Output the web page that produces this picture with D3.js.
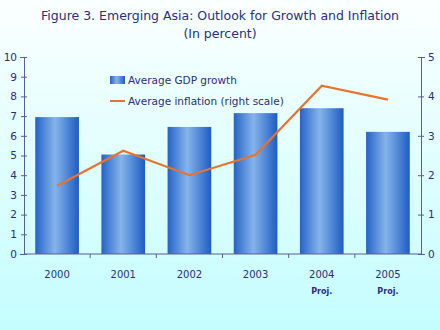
<!DOCTYPE html>
<html>
<head>
  <style>
    body { margin: 0; }
    svg { display: block; font-family: "DejaVu Sans", Verdana, sans-serif; }
  </style>
</head>
<body>
  <script src="https://d3js.org/d3.v7.min.js"></script>
  <svg id="chart" width="440" height="330"></svg>
  <script>
    // data
    var years = ["2000", "2001", "2002", "2003", "2004", "2005"];
    var yearNotes = ["", "", "", "", "Proj.", "Proj."];
    var gdpGrowth = [6.95, 5.05, 6.45, 7.15, 7.4, 6.2];
    var inflation = [1.73, 2.62, 2.0, 2.52, 4.27, 3.92];
    var leftTicks = [0, 1, 2, 3, 4, 5, 6, 7, 8, 9, 10];
    var rightTicks = [0, 1, 2, 3, 4, 5];

    var width = 440, height = 330;
    var margin = {left: 24, right: 19, top: 57, bottom: 76};
    var navy = "#2a2f7e";

    var svg = d3.select("#chart");
    var defs = svg.append("defs");

    // background gradient
    var bg = defs.append("linearGradient").attr("id", "bg")
      .attr("x1", 0).attr("y1", 0).attr("x2", 0).attr("y2", 1);
    bg.append("stop").attr("offset", "0%").attr("stop-color", "#fbffff");
    bg.append("stop").attr("offset", "100%").attr("stop-color", "#c4fdfe");

    // bar gradient (horizontal)
    var bar = defs.append("linearGradient").attr("id", "barGrad")
      .attr("x1", 0).attr("y1", 0).attr("x2", 1).attr("y2", 0);
    bar.append("stop").attr("offset", "0%").attr("stop-color", "#2464c8");
    bar.append("stop").attr("offset", "45%").attr("stop-color", "#86b4ea");
    bar.append("stop").attr("offset", "100%").attr("stop-color", "#1e5cc4");

    svg.append("rect").attr("width", width).attr("height", height).attr("fill", "url(#bg)");

    var x = d3.scaleBand()
      .domain(years)
      .range([margin.left, width - margin.right])
      .paddingInner(0.34)
      .paddingOuter(0.17);

    var yL = d3.scaleLinear().domain([0, 10]).range([height - margin.bottom, margin.top]);
    var yR = d3.scaleLinear().domain([0, 5]).range([height - margin.bottom, margin.top]);

    // title
    svg.append("text").attr("x", 220).attr("y", 20).attr("text-anchor", "middle")
      .attr("fill", navy).attr("font-size", 12.5)
      .text("Figure 3. Emerging Asia: Outlook for Growth and Inflation");
    svg.append("text").attr("x", 220).attr("y", 38).attr("text-anchor", "middle")
      .attr("fill", navy).attr("font-size", 12.5)
      .text("(In percent)");

    // bars
    svg.selectAll(".bar")
      .data(gdpGrowth)
      .enter()
      .append("rect")
      .attr("class", "bar")
      .attr("x", function(d, i) { return x(years[i]); })
      .attr("width", x.bandwidth())
      .attr("y", function(d) { return yL(d); })
      .attr("height", function(d) { return yL(0) - yL(d); })
      .attr("fill", "url(#barGrad)");

    // inflation line
    var line = d3.line()
      .x(function(d, i) { return x(years[i]) + x.bandwidth() / 2; })
      .y(function(d) { return yR(d); });
    svg.append("path").datum(inflation)
      .attr("d", line)
      .attr("fill", "none")
      .attr("stroke", "#e8732c")
      .attr("stroke-width", 2.2);

    // axes
    var axisColor = "#5a5e98";
    var leftAxis = svg.append("g")
      .attr("transform", "translate(" + margin.left + ",0)")
      .call(d3.axisLeft(yL).tickValues(leftTicks).tickFormat(d3.format("d")).tickSize(4).tickPadding(3));
    var rightAxis = svg.append("g")
      .attr("transform", "translate(" + (width - margin.right) + ",0)")
      .call(d3.axisRight(yR).tickValues(rightTicks).tickFormat(d3.format("d")).tickSize(4).tickPadding(3));
    [leftAxis, rightAxis].forEach(function(a) {
      a.select(".domain").attr("stroke", axisColor);
      a.selectAll(".tick line").attr("stroke", axisColor).attr("x1", -3).attr("x2", 3);
      a.selectAll("text").attr("fill", navy).attr("font-size", 10.5)
        .attr("font-family", "DejaVu Sans, sans-serif");
    });

    // x axis baseline and ticks between categories
    var base = yL(0);
    svg.append("line")
      .attr("x1", margin.left).attr("x2", width - margin.right)
      .attr("y1", base).attr("y2", base)
      .attr("stroke", axisColor);
    var edge = function(i) { return margin.left + i * (width - margin.left - margin.right) / years.length; };
    svg.selectAll(".xtick")
      .data(d3.range(1, years.length))
      .enter()
      .append("line")
      .attr("x1", edge).attr("x2", edge)
      .attr("y1", base).attr("y2", base + 4)
      .attr("stroke", axisColor);

    svg.selectAll(".xlabel")
      .data(years)
      .enter()
      .append("text")
      .attr("x", function(d) { return x(d) + x.bandwidth() / 2; })
      .attr("y", base + 24)
      .attr("text-anchor", "middle")
      .attr("fill", navy).attr("font-size", 10)
      .text(function(d) { return d; });

    svg.selectAll(".xnote")
      .data(yearNotes)
      .enter()
      .append("text")
      .attr("x", function(d, i) { return x(years[i]) + x.bandwidth() / 2; })
      .attr("y", base + 40)
      .attr("text-anchor", "middle")
      .attr("fill", navy).attr("font-size", 8).attr("font-weight", "bold")
      .text(function(d) { return d; });

    // legend
    var lg = svg.append("g").attr("transform", "translate(110,80)");
    lg.append("rect").attr("x", 0).attr("y", -4).attr("width", 15).attr("height", 8)
      .attr("fill", "url(#barGrad)");
    lg.append("text").attr("x", 18).attr("y", 4).attr("fill", navy).attr("font-size", 10.5)
      .text("Average GDP growth");
    lg.append("line").attr("x1", 0).attr("x2", 15).attr("y1", 21).attr("y2", 21)
      .attr("stroke", "#e8732c").attr("stroke-width", 2);
    lg.append("text").attr("x", 18).attr("y", 25).attr("fill", navy).attr("font-size", 10.5)
      .text("Average inflation (right scale)");
  </script>
</body>
</html>
